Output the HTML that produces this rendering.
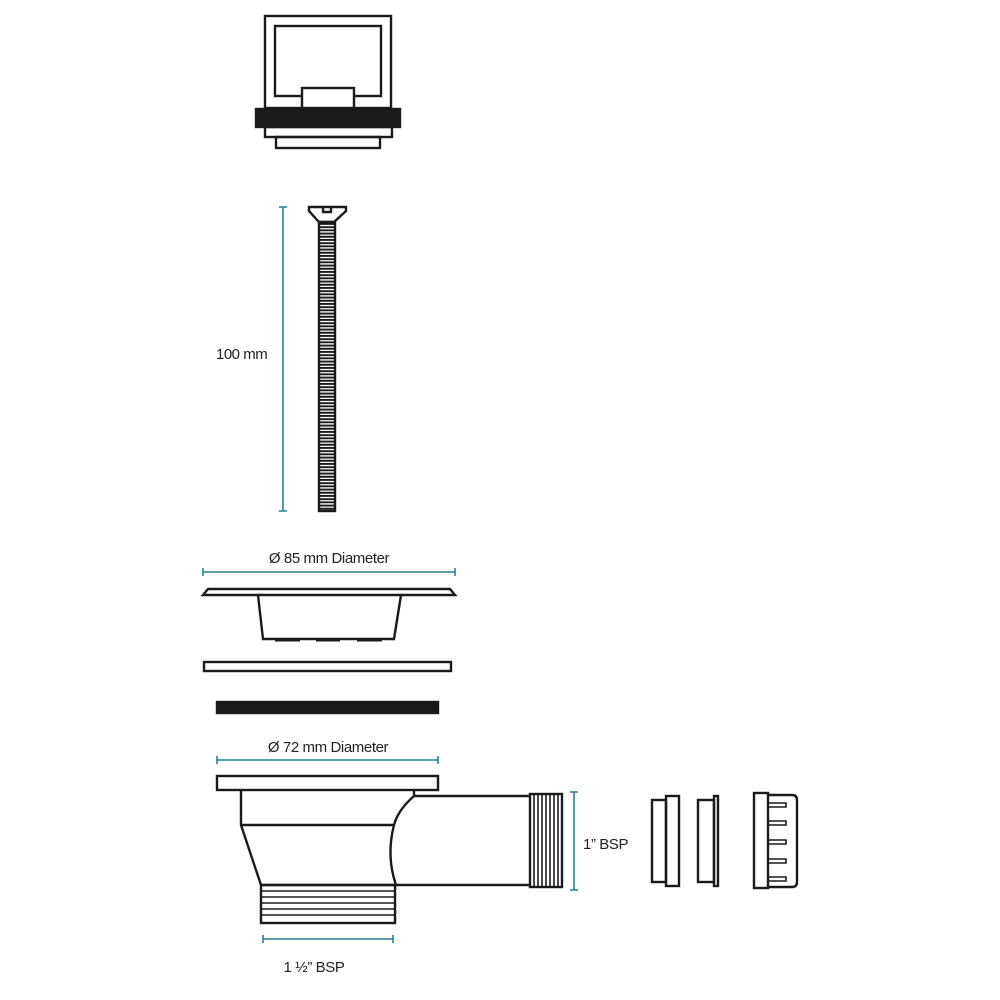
<!DOCTYPE html>
<html><head><meta charset="utf-8"><style>
html,body{margin:0;padding:0;background:#fff;}
svg{display:block}
text{font-family:"Liberation Sans",sans-serif;fill:#222;}
</style></head><body>
<svg width="1000" height="1000" viewBox="0 0 1000 1000" xmlns="http://www.w3.org/2000/svg">
<g fill="none" stroke="#1a1a1a" stroke-width="2.4">
<!-- top strainer plug -->
<rect x="265" y="16" width="126" height="92"/>
<rect x="275" y="26" width="106" height="70"/>
<rect x="302" y="88" width="52" height="20" fill="#fff"/>
<rect x="256" y="109" width="144" height="18" fill="#1a1a1a"/>
<rect x="265" y="127" width="127" height="10"/>
<rect x="276" y="137" width="104" height="11"/>
<!-- screw -->
<path d="M309,207 L346,207 L346,211 L334,222 L319,222 L309,211 Z" fill="#fff"/>
<path d="M323,207 L323,212 L331,212 L331,207" />
<rect x="319" y="222" width="16" height="289"/>
<line x1="327" y1="223" x2="327" y2="510" stroke-width="14" stroke-dasharray="1.9 1.3"/>
<!-- flange -->
<path d="M203,595 L208,589 L450,589 L455,595 Z" fill="#fff"/>
<path d="M258,595 L263,639 L394,639 L401,595"/>
<path d="M275,640 L300,640 M316,640 L340,640 M357,640 L382,640" stroke-width="3"/>
<rect x="204" y="662" width="247" height="9"/>
<rect x="217" y="702" width="221" height="11" fill="#1a1a1a"/>
<!-- waste body -->
<rect x="217" y="776" width="221" height="14"/>
<path d="M241,790 L241,825 L261,885"/>
<line x1="241" y1="825" x2="394" y2="825"/>
<path d="M414,790 L414,796 Q398,810 394,825 Q386,856 396,885"/>
<line x1="414" y1="796" x2="530" y2="796"/>
<line x1="261" y1="885" x2="530" y2="885"/>
<rect x="261" y="885" width="134" height="38"/>
<path d="M261,891 H395 M261,897 H395 M261,903 H395 M261,909 H395 M261,915 H395" stroke-width="1.6"/>
<rect x="530" y="794" width="32" height="93"/>
<path d="M534,794 V887 M538,794 V887 M542,794 V887 M546,794 V887 M550,794 V887 M554,794 V887 M558,794 V887" stroke-width="1.6"/>
<!-- small parts -->
<rect x="652" y="800" width="14" height="82"/>
<rect x="666" y="796" width="13" height="90"/>
<rect x="698" y="800" width="16" height="82"/>
<rect x="714" y="796" width="4" height="90"/>
<rect x="754" y="793" width="14" height="95"/>
<path d="M768,795 H792 Q797,795 797,800 V882 Q797,887 792,887 H768"/>
<path d="M768,803 H786 V807 H768 M768,821 H786 V825 H768 M768,840 H786 V844 H768 M768,859 H786 V863 H768 M768,877 H786 V881 H768" stroke-width="1.6"/>
</g>
<!-- dimensions -->
<g stroke="#2a7f95" stroke-width="1.6" fill="none">
<path d="M283,207 V511 M279,207 H287 M279,511 H287"/>
<path d="M203,572 H455 M203,568 V576 M455,568 V576"/>
<path d="M217,760 H438 M217,756 V764 M438,756 V764"/>
<path d="M574,792 V890 M570,792 H578 M570,890 H578"/>
<path d="M263,939 H393 M263,935 V943 M393,935 V943"/>
</g>
<text x="216" y="359" font-size="15" letter-spacing="-0.5">100 mm</text>
<text x="329" y="563" font-size="15" text-anchor="middle" letter-spacing="-0.4">Ø 85 mm Diameter</text>
<text x="328" y="752" font-size="15" text-anchor="middle" letter-spacing="-0.4">Ø 72 mm Diameter</text>
<text x="583" y="849" font-size="15" letter-spacing="-0.4">1” BSP</text>
<text x="314" y="972" font-size="15" text-anchor="middle" letter-spacing="-0.4">1 ½” BSP</text>
</svg>
</body></html>
